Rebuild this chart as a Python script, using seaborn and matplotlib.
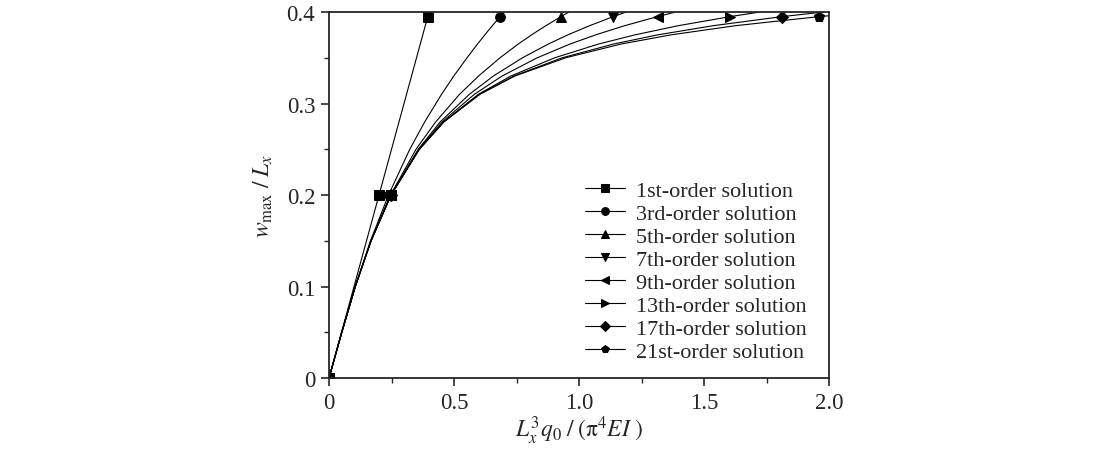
import matplotlib
matplotlib.use("Agg")
import matplotlib.pyplot as plt
import pandas as pd
import seaborn as sns
from matplotlib.ticker import MultipleLocator, FuncFormatter

# deflection w_max / L_x (shared by all curves)
w_ratio = [0, 0.05, 0.1, 0.15, 0.2, 0.25, 0.28, 0.31, 0.33, 0.35, 0.365, 0.375, 0.385, 0.395, 0.4]

# load parameter L_x^3 q0 / (pi^4 EI) for each solution order
load_1st = [0, 0.05, 0.1, 0.15, 0.2, 0.25, 0.28, 0.31, 0.33, 0.35, 0.365, 0.375, 0.385, 0.395, 0.4]
load_3rd = [0, 0.051, 0.105, 0.166, 0.238, 0.323, 0.383, 0.450, 0.499, 0.552, 0.594, 0.623, 0.653, 0.685, 0.701]
load_5th = [0, 0.051, 0.105, 0.168, 0.246, 0.348, 0.427, 0.522, 0.598, 0.684, 0.757, 0.810, 0.867, 0.928, 0.960]
load_7th = [0, 0.051, 0.105, 0.168, 0.247, 0.357, 0.445, 0.561, 0.657, 0.774, 0.877, 0.955, 1.042, 1.137, 1.188]
load_9th = [0, 0.051, 0.105, 0.168, 0.248, 0.360, 0.453, 0.581, 0.692, 0.833, 0.964, 1.066, 1.182, 1.314, 1.386]
load_13th = [0, 0.051, 0.105, 0.168, 0.248, 0.361, 0.459, 0.597, 0.727, 0.903, 1.078, 1.223, 1.396, 1.605, 1.724]
load_17th = [0, 0.051, 0.105, 0.168, 0.248, 0.361, 0.459, 0.602, 0.739, 0.933, 1.138, 1.314, 1.535, 1.813, 1.979]
load_21st = [0, 0.051, 0.105, 0.168, 0.248, 0.361, 0.460, 0.603, 0.743, 0.947, 1.168, 1.367, 1.624, 1.961, 2.168]

labels = ["1st-order solution", "3rd-order solution", "5th-order solution",
          "7th-order solution", "9th-order solution", "13th-order solution",
          "17th-order solution", "21st-order solution"]
loads = [load_1st, load_3rd, load_5th, load_7th, load_9th, load_13th, load_17th, load_21st]
markers = ["s", "o", "^", "v", "<", ">", "D", "p"]
marker_idx = [0, 4, 13]

sns.set_style("ticks")
plt.rcParams["font.family"] = ["Liberation Serif", "DejaVu Serif"]
plt.rcParams["mathtext.fontset"] = "stix"

fig = plt.figure(figsize=(11.03, 4.52), dpi=100)
ax = fig.add_axes([0.2983, 0.1615, 0.4533, 0.8097])

for lab, ld, mk in zip(labels, loads, markers):
    df = pd.DataFrame({"load": ld, "w": w_ratio})
    sns.lineplot(data=df, x="load", y="w", ax=ax, color="black", linewidth=0.8,
                 marker=mk, markersize=7 if mk != "D" else 6, markevery=marker_idx,
                 markeredgecolor="black", markerfacecolor="black",
                 estimator=None, sort=False, label=lab)

ax.set_xlim(0, 2.0)
ax.set_ylim(0, 0.4)
ax.xaxis.set_major_locator(MultipleLocator(0.5))
ax.xaxis.set_minor_locator(MultipleLocator(0.25))
ax.yaxis.set_major_locator(MultipleLocator(0.1))
ax.yaxis.set_minor_locator(MultipleLocator(0.05))
ax.xaxis.set_major_formatter(FuncFormatter(lambda v, p: "0" if abs(v) < 1e-9 else f"{v:.1f}"))
ax.yaxis.set_major_formatter(FuncFormatter(lambda v, p: "0" if abs(v) < 1e-9 else f"{v:.1f}"))
ax.tick_params(which="major", direction="out", length=6, width=1.2, labelsize=16.5,
               top=False, right=False, pad=4)
ax.tick_params(which="minor", direction="out", length=3.5, width=1.0,
               top=False, right=False)
for sp in ax.spines.values():
    sp.set_linewidth(1.3)
    sp.set_visible(True)

ax.set_xlabel(r"$L_x^3q_0\;/\;(\mathrm{\pi}^4EI\;)$", fontsize=17, labelpad=1)
ax.set_ylabel(r"$w_{\max}\;/\;L_x$", fontsize=17, labelpad=8)

ax.legend(loc="upper left", bbox_to_anchor=(0.48, 0.582), frameon=False, fontsize=16,
          handlelength=1.8, handletextpad=0.5, labelspacing=0.11, markerscale=0.8,
          borderpad=0.2)

fig.savefig("out.png", dpi=100)
